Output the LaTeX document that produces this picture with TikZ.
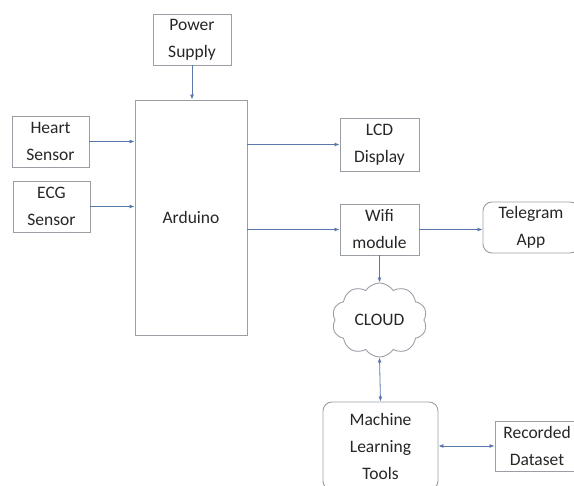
\documentclass[tikz,border=0pt]{standalone}
\usepackage{fontspec}
\setmainfont{Carlito}
\usetikzlibrary{arrows.meta,shapes.symbols}
\definecolor{boxline}{HTML}{9A9FA6}
\definecolor{wire}{HTML}{5878AC}
\definecolor{txt}{HTML}{262626}

\begin{document}
\begin{tikzpicture}[x=1pt,y=-1pt,
  block/.style={draw=boxline, line width=0.9pt, align=center, inner sep=0pt,
    font=\fontsize{17.5}{27}\selectfont, text=txt},
  roundblock/.style={block, rounded corners=9pt},
  wirearrow/.style={draw=wire, line width=0.8pt, -{Latex[length=5pt,width=4pt]}},
  wireboth/.style={wirearrow, {Latex[length=5pt,width=4pt]}-{Latex[length=5pt,width=4pt]}}]
  \useasboundingbox (0,0) rectangle (574,486);
  \clip (0,0) rectangle (574,486);

  % Inputs
  \node[block, minimum width=78pt, minimum height=51pt] (pwr) at (192,39.5) {Power\\Supply};
  \node[block, minimum width=112pt, minimum height=235pt] (ard) at (191,217.5) {Arduino};
  \node[block, minimum width=77pt, minimum height=51pt] (heart) at (50.5,141.5) {Heart\\Sensor};
  \node[block, minimum width=77pt, minimum height=51pt] (ecg) at (51.5,206.5) {ECG\\Sensor};

  % Outputs
  \node[block, minimum width=79pt, minimum height=53pt] (lcd) at (379.5,144.5) {LCD\\Display};
  \node[block, minimum width=79pt, minimum height=51pt] (wifi) at (379.5,229.5) {Wifi\\module};
  \node[roundblock, minimum width=96pt, minimum height=51pt] (tele) at (531,227.5) {Telegram\\App};

  % Cloud side
  \node[block, cloud, cloud puffs=10, cloud puff arc=115, aspect=1.3,
    minimum width=95pt, minimum height=74pt] (cld) at (379.5,320) {CLOUD};
  \node[roundblock, minimum width=115pt, minimum height=88pt] (ml) at (380.5,446) {Machine\\Learning\\Tools};
  \node[block, minimum width=84pt, minimum height=50pt] (rec) at (537,446) {Recorded\\Dataset};

  % Connectors
  \draw[wirearrow] (pwr.south) -- (pwr.south |- ard.north);
  \draw[wirearrow] (heart.east) -- (heart.east -| ard.west);
  \draw[wirearrow] (ecg.east) -- (ecg.east -| ard.west);
  \draw[wirearrow] (ard.east |- lcd.west) -- (lcd.west);
  \draw[wirearrow] (ard.east |- wifi.west) -- (wifi.west);
  \draw[wirearrow] (wifi.east) -- (wifi.east -| tele.west);
  \draw[wirearrow] (wifi.south) -- (cld.north);
  \draw[wireboth] (cld.south) -- (ml.north);
  \draw[wireboth] (ml.east) -- (rec.west);
\end{tikzpicture}
\end{document}
